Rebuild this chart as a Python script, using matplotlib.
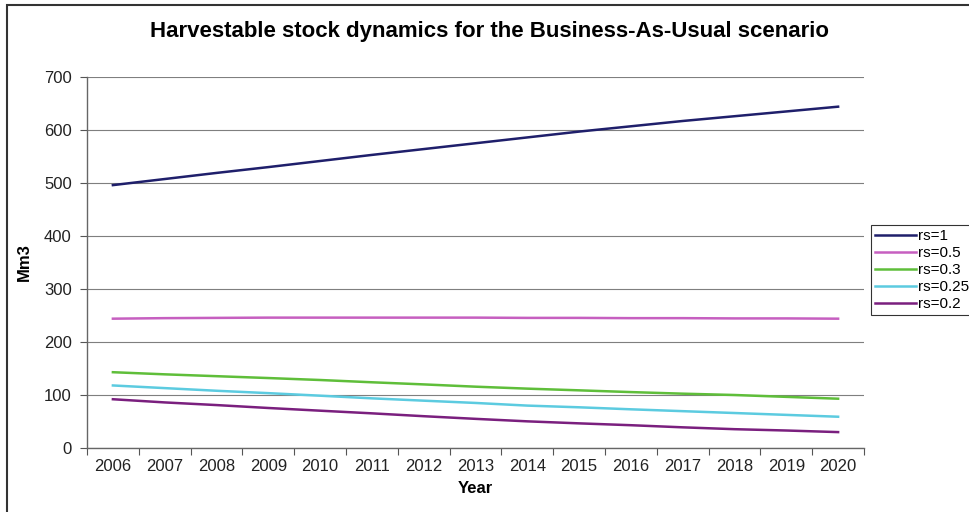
import matplotlib.pyplot as plt
from matplotlib.patches import Rectangle

plt.rcParams['font.family'] = ['Liberation Sans', 'DejaVu Sans']

years = list(range(2006, 2021))
rs_1 = [496, 507.5, 519, 530, 541.5, 553, 564, 575, 586, 597, 607, 617, 626, 635, 644]
rs_05 = [244, 245, 245.5, 246, 246, 246, 246, 246, 245.5, 245.5, 245, 245, 244.5, 244.5, 244]
rs_03 = [143, 139, 135.5, 132, 128.3, 124, 120, 115.7, 112, 108.8, 105.5, 102.5, 100, 96.5, 93]
rs_025 = [118, 113, 108, 103.5, 98.7, 93.7, 89.3, 85, 80, 76.8, 73, 69.5, 66, 62.5, 59]
rs_02 = [92, 86, 81, 75.5, 70.4, 65.4, 60, 55, 50.3, 46.5, 43, 39, 35.5, 33, 30]

series = [
    ('rs=1', rs_1, '#1f1f6b'),
    ('rs=0.5', rs_05, '#c65fc0'),
    ('rs=0.3', rs_03, '#5fbe3a'),
    ('rs=0.25', rs_025, '#5ccbe0'),
    ('rs=0.2', rs_02, '#7a1f7e'),
]

fig = plt.figure(figsize=(9.69, 5.12), dpi=100)
ax = fig.add_axes([87 / 969, 1 - 448 / 512, (864 - 87) / 969, (448 - 77) / 512])

# outer chart border
fig.patches.append(Rectangle((7 / 969, -0.1), 1.1, 1 - 5 / 512 + 0.1, transform=fig.transFigure,
                             fill=False, edgecolor='#333333', linewidth=1.5))

x = list(range(len(years)))
for label, vals, col in series:
    ax.plot(x, vals, color=col, linewidth=1.8, label=label)

ax.set_xlim(-0.5, len(years) - 0.5)
ax.set_ylim(0, 700)
ax.set_yticks(range(0, 701, 100))
ax.yaxis.grid(True, color='#7f7f7f', linewidth=0.8)
ax.set_axisbelow(True)

# category axis: boundary ticks, labels in the middle
ax.set_xticks([i - 0.5 for i in range(len(years) + 1)])
ax.set_xticklabels([])
ax.set_xticks(x, minor=True)
ax.set_xticklabels([str(y) for y in years], minor=True)
ax.tick_params(axis='x', which='major', length=5, color='#555555', width=0.8)
ax.tick_params(axis='x', which='minor', length=0, labelsize=12, pad=8, labelcolor='#222222')
ax.tick_params(axis='y', length=5, color='#555555', width=0.8, labelsize=12, pad=6,
               labelcolor='#222222')

for s in ['top', 'right']:
    ax.spines[s].set_visible(False)
for s in ['left', 'bottom']:
    ax.spines[s].set_color('#666666')
    ax.spines[s].set_linewidth(1.0)

ax.set_xlabel('Year', fontsize=12, fontweight='bold', labelpad=5)
ax.set_ylabel('Mm3', fontsize=12, fontweight='bold')
ax.yaxis.set_label_coords((32 - 87) / 777, 0.5)
fig.text(490 / 969, 1 - 32 / 512, 'Harvestable stock dynamics for the Business-As-Usual scenario',
         ha='center', va='center', fontsize=16, fontweight='bold')

leg = ax.legend(loc='center left', bbox_to_anchor=(871 / 969, 1 - 270 / 512),
                bbox_transform=fig.transFigure, fontsize=11, frameon=True, fancybox=False,
                borderpad=0.25, labelspacing=0.2, handlelength=2.7, handletextpad=0.15,
                borderaxespad=0)
leg.get_frame().set_edgecolor('black')
leg.get_frame().set_linewidth(0.8)

plt.savefig('out.png', dpi=100)
